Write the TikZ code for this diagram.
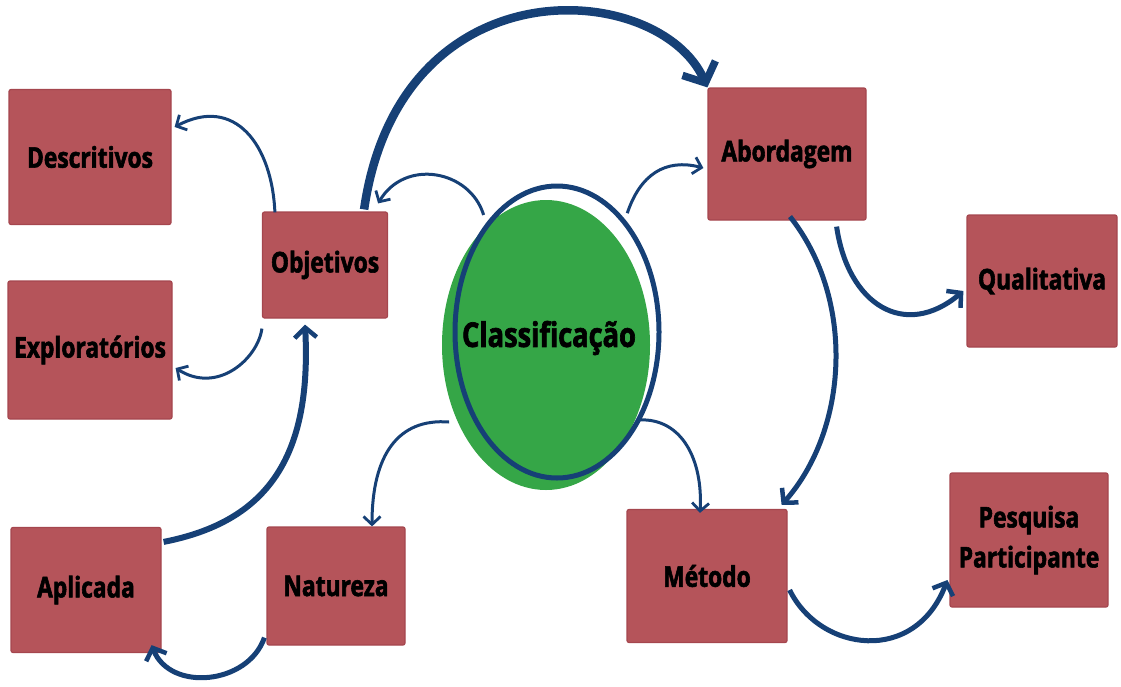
\documentclass[tikz,border=0pt]{standalone}
\usepackage{fontspec}
\setmainfont{Open Sans}[FakeStretch=0.8, BoldFeatures={FakeBold=2}]
\usetikzlibrary{arrows.meta,shapes.geometric}
\definecolor{boxred}{RGB}{181,84,90}
\definecolor{boxedge}{RGB}{165,70,78}
\definecolor{navy}{RGB}{22,64,118}
\definecolor{leaf}{RGB}{53,166,71}
\tikzset{
  box/.style={rectangle, fill=boxred, draw=boxedge, line width=1.2, rounded corners=2,
    font=\bfseries\fontsize{28.5}{40}\selectfont, text=black, align=center, inner sep=0},
  thin/.style={draw=navy, line width=3, -{Straight Barb[length=8,width=17,line width=2.8]}},
  mid/.style={draw=navy, line width=5, -{Straight Barb[length=10,width=22,line width=4.5]}},
  fat/.style={draw=navy, line width=8.5, -{Straight Barb[length=16,width=36,line width=7.5]}},
}
\begin{document}
\begin{tikzpicture}[x=1pt,y=-1pt]
\useasboundingbox (0,0) rectangle (1121,686);
% boxes
\node[box, minimum width=162, minimum height=135] (desc) at (90,157) {Descritivos};
\node[box, minimum width=164, minimum height=138] (expl) at (90,350) {Exploratórios};
\node[box, minimum width=125, minimum height=106] (obj) at (325,265) {Objetivos};
\node[box, minimum width=158, minimum height=132] (abord) at (787,154) {Abordagem};
\node[box, minimum width=150, minimum height=132] (qual) at (1042,281) {Qualitativa};
\node[box, minimum width=158, minimum height=134] (pesq) at (1029,540) {Pesquisa\\Participante};
\node[box, minimum width=160, minimum height=133] (metodo) at (707,576) {Método};
\node[box, minimum width=150, minimum height=125] (aplic) at (86,590) {Aplicada};
\node[box, minimum width=138, minimum height=118] (natur) at (336,586) {Natureza};
% central ellipse
\node[ellipse, fill=leaf, minimum width=208, minimum height=290, inner sep=0] (cls) at (546,345) {};
\node[ellipse, draw=navy, line width=5, minimum width=204, minimum height=292, inner sep=0] (cring) at (557,332) {};
\node[font=\bfseries\fontsize{34}{38}\selectfont] (clstext) at (549,338) {Classificação};
% connectors
\draw[fat] ([shift={(-24,-2)}]obj.north east) .. controls (400,-40) and (660,-20) .. (abord.north west);
\draw[thin] ([shift={(-4,-6)}]cring.122) .. controls (470,170) and (405,158) .. ([shift={(-10,-8)}]obj.north east);
\draw[thin] ([shift={(4,-4)}]cring.60) .. controls (640,175) and (665,158) .. ([shift={(-4,14)}]abord.west);
\draw[thin] ([xshift=13,yshift=-1]obj.north west) .. controls (272,145) and (235,95) .. ([shift={(3,-30)}]desc.east);
\draw[thin] ([yshift=-10]obj.south west) .. controls (258,358) and (218,395) .. ([shift={(3,18)}]expl.east);
\draw[mid, line width=6] ([shift={(2,15)}]aplic.north east) .. controls (265,522) and (312,460) .. ([shift={(-20,6)}]obj.south);
\draw[thin] ([shift={(-6,6)}]cls.218) .. controls (398,418) and (372,455) .. ([xshift=36]natur.north);
\draw[mid] ([shift={(-2,-8)}]natur.south west) .. controls (248,685) and (170,692) .. ([shift={(-10,-8)}]aplic.south east);
\draw[thin] ([shift={(4,0)}]cls.-40) .. controls (682,418) and (703,460) .. ([xshift=-7,yshift=-4]metodo.north);
\draw[mid] ([xshift=3,yshift=4]abord.south) .. controls (856,300) and (848,430) .. ([shift={(-6,-4)}]metodo.north east);
\draw[mid] ([shift={(-30,6)}]abord.south east) .. controls (848,305) and (905,340) .. ([shift={(-3,10)}]qual.west);
\draw[mid] ([shift={(2,14)}]metodo.east) .. controls (820,652) and (915,665) .. ([shift={(-2,40)}]pesq.west);
\end{tikzpicture}
\end{document}
